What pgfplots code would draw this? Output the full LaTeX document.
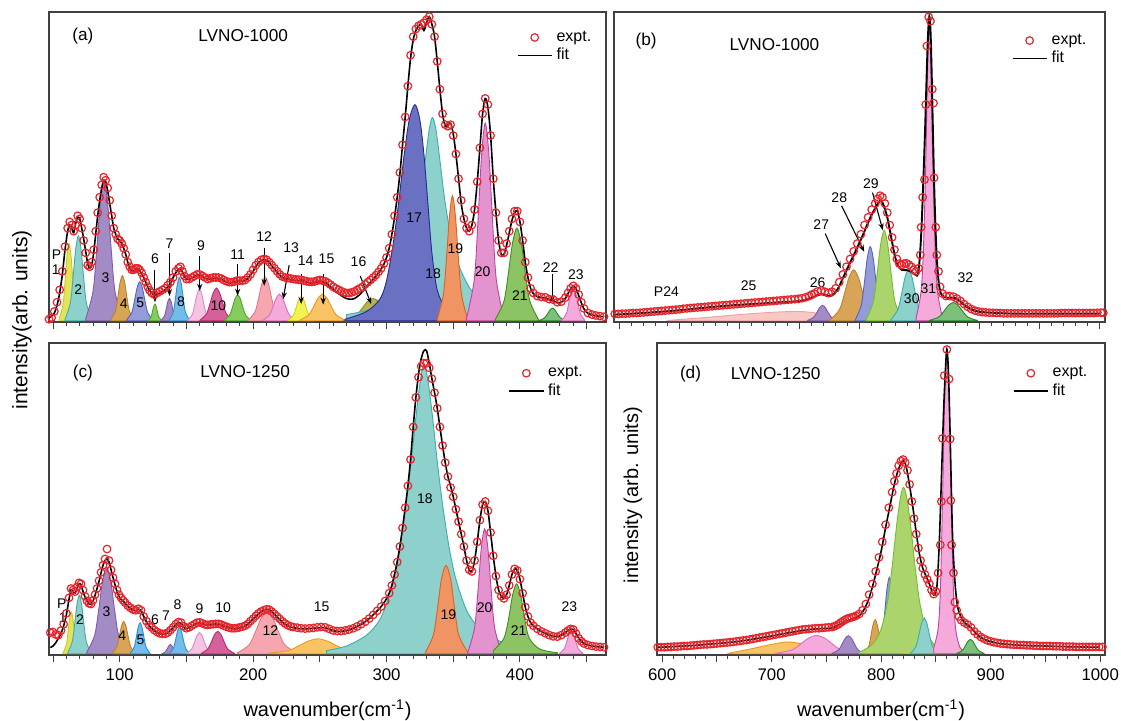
\documentclass[border=0pt]{standalone}
\usepackage{pgfplots}
\pgfplotsset{compat=1.18}
\usepackage{pgfplotstable}
\usepackage{fontspec}
\setmainfont{Liberation Sans}
\usetikzlibrary{arrows.meta}

\definecolor{expred}{HTML}{E8242B}
\definecolor{cYel}{HTML}{E4E45C}\definecolor{lYel}{HTML}{C8C81E}
\definecolor{cTeal}{HTML}{8ED0CB}\definecolor{lTeal}{HTML}{3AB0AA}
\definecolor{cPur}{HTML}{A38BC6}\definecolor{lPur}{HTML}{7E5AB0}
\definecolor{cTan}{HTML}{D8A458}\definecolor{lTan}{HTML}{BC8224}
\definecolor{cPeri}{HTML}{949CD8}\definecolor{lPeri}{HTML}{5662C0}
\definecolor{cGrn}{HTML}{86CC5C}\definecolor{lGrn}{HTML}{4AA82A}
\definecolor{cLBlu}{HTML}{72BCEA}\definecolor{lLBlu}{HTML}{2E8ED4}
\definecolor{cLPink}{HTML}{F6C4E2}\definecolor{lLPink}{HTML}{E088C4}
\definecolor{cMag}{HTML}{D4619A}\definecolor{lMag}{HTML}{C02474}
\definecolor{cSal}{HTML}{F5A6AE}\definecolor{lSal}{HTML}{E87888}
\definecolor{cSal2}{HTML}{F8C8C4}\definecolor{lSal2}{HTML}{F0A0A0}
\definecolor{cPink}{HTML}{F4AADA}\definecolor{lPink}{HTML}{DE6CC0}
\definecolor{cYel2}{HTML}{F2F252}\definecolor{lYel2}{HTML}{D8D400}
\definecolor{cOra}{HTML}{F8C466}\definecolor{lOra}{HTML}{F0961E}
\definecolor{cOli}{HTML}{B4B454}\definecolor{lOli}{HTML}{8E8E1E}
\definecolor{cNavy}{HTML}{6A70C2}\definecolor{lNavy}{HTML}{262A8C}
\definecolor{cOR}{HTML}{F09464}\definecolor{lOR}{HTML}{E0601E}
\definecolor{cPM}{HTML}{E394CE}\definecolor{lPM}{HTML}{C440A4}
\definecolor{cGrn2}{HTML}{8CC464}\definecolor{lGrn2}{HTML}{3E8E1E}
\definecolor{cLime}{HTML}{ABD46C}\definecolor{lLime}{HTML}{70C02A}
\definecolor{cDG}{HTML}{7CC07C}\definecolor{lDG}{HTML}{228A22}

\newcommand{\fs}[1]{\fontsize{#1}{#1}\selectfont}
\newcommand{\pk}[3]{\addplot[smooth, fill=#1, draw=#2, line width=0.45pt, forget plot] coordinates {#3} \closedcycle;}
\newcommand{\lb}[3][7]{\node[font=\fs{#1}, inner sep=0pt] at (axis cs:#2) {#3};}
\newcommand{\ar}[2]{\draw[-{Stealth[length=3.5pt,width=2.6pt]}, line width=0.55pt] (axis cs:#1) -- (axis cs:#2);}

\pgfplotsset{panel/.style={scale only axis, anchor=south west, ymin=-0.004, ymax=1, ytick=\empty,
  axis line style={line width=0.6pt, black!75}, tick align=outside, xtick pos=left,
  tick style={black!75, line width=0.5pt}, major tick length=3.5pt, minor tick length=2pt,
  minor x tick num=4, tick label style={font=\fs{8.4}}, /pgf/number format/assume math mode=true,
  legend style={draw=none, fill=none, font=\fs{8}, row sep=-2pt, inner sep=1pt, anchor=north east},
  legend cell align=left},
  expt/.style={only marks, mark=o, mark size=1.9pt, expred, mark options={line width=0.6pt}},
  fitl/.style={black, line width=0.8pt, smooth, no marks}}

\pgfplotstableread{
x e f
47 0.005 0.01
49 0.01 0.015
51 0.03 0.025
53 0.06 0.05
55 0.10 0.09
57 0.16 0.15
59 0.24 0.23
61 0.30 0.29
62.5 0.32 0.31
64 0.31 0.30
65.5 0.29 0.285
67 0.31 0.315
68.5 0.34 0.335
70 0.33 0.33
71.5 0.30 0.30
73 0.26 0.265
74.5 0.22 0.225
76 0.18 0.185
77.5 0.175 0.17
79 0.19 0.18
80.5 0.23 0.22
82 0.29 0.28
83.5 0.35 0.34
85 0.40 0.39
86.5 0.44 0.43
88 0.465 0.455
89.5 0.455 0.45
91 0.43 0.42
92.5 0.39 0.38
94 0.34 0.34
95.5 0.30 0.30
97 0.28 0.28
98.5 0.265 0.265
100 0.26 0.26
101.5 0.25 0.25
103 0.235 0.235
104.5 0.215 0.215
106 0.19 0.19
107.5 0.175 0.172
109 0.165 0.162
110.5 0.165 0.162
112 0.17 0.168
113.5 0.17 0.168
115 0.165 0.162
116.5 0.155 0.152
118 0.14 0.14
119.5 0.125 0.125
121 0.11 0.11
122.5 0.098 0.098
124 0.09 0.09
126 0.085 0.082
128 0.09 0.085
130 0.095 0.09
132 0.10 0.095
134 0.105 0.10
136 0.115 0.11
138 0.125 0.12
140 0.14 0.14
142 0.16 0.155
144 0.17 0.168
145.5 0.175 0.17
147 0.16 0.158
148.5 0.145 0.145
150 0.135 0.135
152 0.135 0.133
154 0.14 0.138
156 0.145 0.143
158 0.15 0.148
160 0.15 0.15
162 0.145 0.143
164 0.14 0.137
166 0.135 0.135
168 0.138 0.135
170 0.14 0.137
172 0.14 0.138
174 0.14 0.137
176 0.137 0.135
178 0.132 0.13
180 0.128 0.125
182 0.125 0.122
184 0.125 0.122
186 0.127 0.125
188 0.13 0.128
190 0.13 0.128
192 0.13 0.128
194 0.132 0.13
196 0.14 0.137
198 0.15 0.148
200 0.165 0.16
202 0.18 0.175
204 0.19 0.188
206 0.197 0.195
208 0.2 0.198
210 0.198 0.197
212 0.19 0.19
214 0.18 0.178
216 0.17 0.168
218 0.16 0.157
220 0.15 0.148
222 0.143 0.14
224 0.14 0.137
226 0.138 0.135
228 0.137 0.133
230 0.135 0.132
232 0.134 0.13
234 0.133 0.13
236 0.132 0.13
238 0.13 0.128
240 0.128 0.125
242 0.126 0.123
244 0.126 0.122
246 0.127 0.124
248 0.13 0.126
250 0.132 0.128
252 0.13 0.127
254 0.128 0.125
256 0.123 0.118
258 0.117 0.11
260 0.11 0.102
262 0.105 0.095
264 0.1 0.088
266 0.096 0.082
268 0.092 0.076
270 0.09 0.072
272 0.09 0.07
274 0.092 0.07
276 0.095 0.072
278 0.1 0.078
280 0.105 0.085
282 0.11 0.095
284 0.118 0.105
286 0.125 0.115
288 0.132 0.125
290 0.14 0.135
292 0.148 0.145
294 0.158 0.155
296 0.17 0.168
298 0.185 0.183
300 0.205 0.205
302 0.235 0.235
304 0.28 0.28
306 0.34 0.335
308 0.40 0.40
310 0.48 0.475
312 0.57 0.57
314 0.66 0.66
316 0.76 0.76
318 0.86 0.85
320 0.92 0.91
322 0.945 0.94
324 0.955 0.955
326 0.96 0.96
328 0.965 0.94
330 0.975 0.965
332 0.985 0.985
334 0.96 0.96
336 0.92 0.92
338 0.84 0.84
340 0.75 0.75
342 0.67 0.67
344 0.635 0.63
346 0.63 0.635
348 0.635 0.64
350 0.60 0.605
352 0.54 0.54
354 0.46 0.46
356 0.39 0.38
358 0.33 0.33
360 0.30 0.30
362 0.29 0.29
364 0.31 0.31
366 0.36 0.36
368 0.45 0.45
370 0.56 0.56
372 0.67 0.67
374 0.72 0.72
376 0.70 0.69
378 0.60 0.60
380 0.46 0.46
382 0.35 0.35
384 0.26 0.26
386 0.22 0.215
388 0.22 0.215
390 0.25 0.245
392 0.29 0.285
394 0.33 0.325
396 0.355 0.35
398 0.355 0.355
400 0.32 0.32
402 0.26 0.26
404 0.19 0.19
406 0.14 0.14
408 0.105 0.105
410 0.09 0.088
413 0.08 0.078
416 0.077 0.075
419 0.076 0.074
422 0.07 0.068
425 0.068 0.065
428 0.06 0.058
431 0.062 0.06
434 0.075 0.072
436 0.09 0.088
438 0.105 0.103
440 0.113 0.112
442 0.105 0.104
444 0.085 0.082
446 0.06 0.058
448 0.04 0.038
451 0.025 0.024
454 0.02 0.019
457 0.017 0.016
460 0.015 0.014
463 0.013 0.013
}\datA

\pgfplotstableread{
x e f
48 0.068 0.02
50 0.07 0.025
52 0.062 0.035
54 0.06 0.05
56 0.075 0.065
58 0.095 0.09
60 0.13 0.125
62 0.18 0.175
63.5 0.21 0.205
65 0.205 0.2
66.5 0.2 0.195
68 0.215 0.21
69.5 0.228 0.225
71 0.225 0.222
72.5 0.205 0.2
74 0.185 0.183
75.5 0.17 0.17
77 0.162 0.16
78.5 0.16 0.16
80 0.172 0.17
81.5 0.19 0.188
83 0.21 0.21
84.5 0.235 0.233
86 0.262 0.26
87.5 0.285 0.285
89 0.305 0.3
90.5 0.337 0.305
92 0.3 0.295
93.5 0.27 0.27
95 0.245 0.245
96.5 0.225 0.222
98 0.205 0.2
99.5 0.19 0.185
101 0.18 0.175
102.5 0.172 0.17
104 0.165 0.163
106 0.155 0.153
108 0.148 0.146
110 0.142 0.14
112 0.14 0.138
114 0.145 0.143
116 0.14 0.14
118 0.12 0.12
120 0.105 0.103
122 0.092 0.09
124 0.085 0.082
126 0.076 0.075
128 0.07 0.068
130 0.066 0.065
132 0.064 0.063
134 0.064 0.063
136 0.068 0.067
138 0.076 0.075
140 0.085 0.083
142 0.095 0.093
144 0.102 0.1
146 0.1 0.098
148 0.088 0.086
150 0.082 0.08
152 0.085 0.084
154 0.09 0.088
156 0.095 0.094
158 0.1 0.098
160 0.101 0.1
162 0.098 0.097
164 0.094 0.093
166 0.093 0.092
168 0.094 0.093
170 0.095 0.095
172 0.096 0.096
174 0.096 0.095
176 0.094 0.093
178 0.09 0.089
180 0.087 0.086
182 0.084 0.083
184 0.082 0.081
186 0.082 0.08
188 0.083 0.081
190 0.085 0.083
192 0.087 0.085
194 0.09 0.088
196 0.096 0.095
198 0.105 0.104
200 0.113 0.112
202 0.122 0.12
204 0.13 0.128
206 0.136 0.135
208 0.14 0.14
210 0.143 0.143
212 0.142 0.142
214 0.136 0.136
216 0.128 0.127
218 0.12 0.118
220 0.112 0.11
222 0.104 0.102
224 0.097 0.095
226 0.092 0.09
228 0.088 0.086
230 0.086 0.084
233 0.084 0.082
236 0.082 0.08
239 0.081 0.08
242 0.082 0.081
245 0.083 0.082
248 0.085 0.083
251 0.086 0.084
254 0.085 0.084
257 0.08 0.079
260 0.075 0.074
263 0.073 0.072
266 0.073 0.072
269 0.075 0.074
272 0.078 0.077
275 0.082 0.082
278 0.088 0.088
281 0.095 0.095
284 0.103 0.103
287 0.113 0.113
290 0.125 0.125
293 0.138 0.138
296 0.152 0.152
299 0.17 0.17
302 0.195 0.195
304 0.22 0.22
306 0.255 0.255
308 0.295 0.295
310 0.345 0.345
312 0.405 0.405
314 0.47 0.47
316 0.54 0.54
318 0.625 0.625
320 0.73 0.73
322 0.825 0.825
324 0.89 0.9
326 0.925 0.95
328 0.935 0.975
330 0.935 0.975
332 0.92 0.935
334 0.885 0.885
336 0.84 0.84
338 0.79 0.79
340 0.73 0.73
342 0.67 0.67
344 0.615 0.615
346 0.57 0.57
348 0.535 0.54
350 0.505 0.505
352 0.465 0.465
354 0.425 0.425
356 0.385 0.385
358 0.345 0.345
360 0.3 0.3
362 0.27 0.27
364 0.265 0.265
366 0.3 0.3
368 0.36 0.36
370 0.43 0.43
372 0.48 0.48
374 0.49 0.49
376 0.46 0.46
378 0.39 0.39
380 0.315 0.315
382 0.25 0.25
384 0.205 0.205
386 0.185 0.185
388 0.178 0.178
390 0.19 0.19
392 0.22 0.22
394 0.255 0.255
396 0.273 0.273
398 0.268 0.268
400 0.24 0.24
402 0.195 0.195
404 0.15 0.15
406 0.12 0.12
408 0.1 0.1
410 0.09 0.09
413 0.08 0.08
416 0.072 0.072
419 0.066 0.066
422 0.06 0.06
425 0.056 0.056
428 0.055 0.055
431 0.06 0.06
434 0.068 0.068
436 0.075 0.075
438 0.08 0.08
440 0.078 0.078
442 0.065 0.065
444 0.05 0.05
446 0.04 0.04
448 0.033 0.033
451 0.028 0.028
454 0.025 0.025
457 0.023 0.023
460 0.022 0.022
463 0.021 0.021
}\datC

\pgfplotstableread{
x e
596 0.022
599 0.022
602 0.023
605 0.023
608 0.024
611 0.025
614 0.025
617 0.026
620 0.027
623 0.028
626 0.029
629 0.030
632 0.031
635 0.032
638 0.033
641 0.034
644 0.035
647 0.036
650 0.037
653 0.039
656 0.040
659 0.041
662 0.042
665 0.043
668 0.044
671 0.045
674 0.046
677 0.047
680 0.048
683 0.049
686 0.050
689 0.051
692 0.052
695 0.053
698 0.054
701 0.055
704 0.056
707 0.057
710 0.058
713 0.059
716 0.060
719 0.061
722 0.062
725 0.063
728 0.064
731 0.065
734 0.066
737 0.067
740 0.068
743 0.069
746 0.070
749 0.071
752 0.073
755 0.076
758 0.08
760 0.084
762 0.088
765 0.095
768 0.098
771 0.094
774 0.09
777 0.094
780 0.105
783 0.125
786 0.15
789 0.175
792 0.2
795 0.225
798 0.25
801 0.28
804 0.31
807 0.335
810 0.36
813 0.38
815 0.395
817 0.405
819 0.4
821 0.38
823 0.35
825 0.31
827 0.27
829 0.23
831 0.2
833 0.185
835 0.18
837 0.185
839 0.186
841 0.182
843 0.175
845 0.165
847 0.16
849 0.17
850.5 0.213
851.2 0.303
852.5 0.4
854 0.457
855 0.7
856 0.89
857.5 0.984
859 0.97
860.5 0.75
861.5 0.705
862 0.463
863.4 0.303
864.3 0.213
865.7 0.16
867 0.11
869 0.088
872 0.08
875 0.08
878 0.078
881 0.072
884 0.064
887 0.054
890 0.045
893 0.038
896 0.033
899 0.030
902 0.028
905 0.027
908 0.026
911 0.026
914 0.025
917 0.025
920 0.024
923 0.024
926 0.024
929 0.024
932 0.024
935 0.024
938 0.024
941 0.024
944 0.024
947 0.024
950 0.024
953 0.024
956 0.024
959 0.024
962 0.024
965 0.024
968 0.025
971 0.025
974 0.025
977 0.025
980 0.025
983 0.025
986 0.025
989 0.025
992 0.025
995 0.025
998 0.026
1001 0.026
1003 0.026
}\datBe

\pgfplotstableread{
x f
596 0.02
610 0.023
630 0.028
650 0.034
670 0.042
690 0.049
710 0.054
730 0.059
745 0.062
755 0.067
760 0.074
765 0.083
768 0.086
771 0.083
774 0.079
777 0.082
780 0.093
783 0.112
786 0.138
789 0.163
792 0.188
795 0.212
798 0.237
801 0.263
804 0.29
807 0.318
810 0.343
813 0.365
815 0.378
817 0.388
819 0.382
821 0.362
823 0.335
825 0.296
827 0.255
829 0.215
831 0.188
833 0.172
835 0.165
837 0.164
839 0.164
841 0.162
843 0.158
845 0.152
847 0.148
848.5 0.15
850 0.2
851.5 0.3
853 0.45
854.5 0.62
856 0.82
857 0.93
858 0.985
859 0.94
860 0.8
861 0.62
862 0.45
863 0.32
864 0.22
865 0.16
866 0.12
867.5 0.09
870 0.078
873 0.074
876 0.075
879 0.074
882 0.068
886 0.055
890 0.043
895 0.034
900 0.029
910 0.026
930 0.023
960 0.023
1000 0.023
}\datBf

\pgfplotstableread{
x e
596 0.021
599 0.021
602 0.021
605 0.022
608 0.022
611 0.023
614 0.023
617 0.024
620 0.025
623 0.025
626 0.026
629 0.027
632 0.028
635 0.029
638 0.03
641 0.03
644 0.031
647 0.032
650 0.033
653 0.034
656 0.035
659 0.036
662 0.037
665 0.038
668 0.04
671 0.041
674 0.043
677 0.044
680 0.046
683 0.048
686 0.05
689 0.052
692 0.054
695 0.056
698 0.058
701 0.06
704 0.062
707 0.064
710 0.066
713 0.068
716 0.07
719 0.072
722 0.074
725 0.076
728 0.078
731 0.079
734 0.08
737 0.081
740 0.082
743 0.082
746 0.083
749 0.084
752 0.085
755 0.086
757 0.088
759 0.091
761 0.095
763 0.1
765 0.105
767 0.109
769 0.113
771 0.115
773 0.117
775 0.119
777 0.122
780 0.128
783 0.14
786 0.16
789 0.19
792 0.225
795 0.265
798 0.31
801 0.36
804 0.415
807 0.47
810 0.52
812 0.555
814 0.58
816 0.605
818 0.62
820 0.625
822 0.615
824 0.59
826 0.545
828 0.49
830 0.435
832 0.385
834 0.34
836 0.3
838 0.275
840 0.255
842 0.24
844 0.225
846 0.205
848 0.192
850 0.2
852 0.26
854 0.35
855 0.49
856 0.693
857.6 0.895
860 0.979
862 0.884
863 0.691
863.6 0.493
864.3 0.35
866 0.26
867.3 0.166
869 0.14
871 0.12
873 0.108
876 0.1
879 0.094
882 0.085
885 0.072
888 0.062
891 0.054
894 0.048
897 0.043
900 0.04
903 0.037
906 0.035
909 0.033
912 0.032
915 0.031
918 0.03
921 0.029
924 0.029
927 0.028
930 0.028
933 0.027
936 0.027
939 0.026
942 0.026
945 0.025
948 0.025
951 0.025
954 0.025
957 0.024
960 0.024
963 0.024
966 0.023
969 0.023
972 0.023
975 0.023
978 0.022
981 0.022
984 0.022
987 0.022
990 0.022
993 0.022
996 0.022
999 0.022
1002 0.022
}\datDe

\pgfplotstableread{
x f
596 0.021
600 0.021
610 0.023
620 0.025
630 0.027
640 0.03
650 0.033
660 0.036
670 0.04
680 0.045
690 0.051
700 0.057
710 0.064
720 0.07
730 0.076
740 0.08
748 0.081
755 0.083
760 0.09
765 0.1
770 0.108
775 0.113
780 0.122
784 0.14
788 0.17
792 0.215
796 0.27
800 0.33
804 0.405
808 0.475
812 0.545
815 0.585
818 0.612
820.4 0.622
823 0.6
826 0.54
829 0.47
832 0.39
835 0.32
838 0.275
841 0.25
844 0.225
847 0.195
849 0.19
851 0.22
853 0.35
855 0.56
857 0.78
858.5 0.9
860 0.98
861.5 0.9
863 0.7
865 0.4
867 0.25
869 0.17
871 0.135
874 0.11
877 0.097
880 0.09
883 0.08
886 0.068
890 0.055
895 0.045
900 0.039
910 0.032
920 0.029
935 0.026
950 0.025
965 0.023
980 0.022
1000 0.021
}\datDf

\begin{document}
\begin{tikzpicture}
\useasboundingbox (0,0) rectangle (560.5pt,360.5pt);

% ---------------- (a)
\begin{axis}[panel, at={(24.5pt,199.5pt)}, width=278.5pt, height=155pt, xmin=47, xmax=464.5,
  xtick={50,100,...,450}, xticklabels={}, legend style={at={(0.985,0.96)}}]
\pk{cYel}{lYel}{(54.5,0.004)(57.5,0.053)(59,0.125)(60.5,0.21)(62,0.25)(63.5,0.21)(65,0.125)(66.5,0.053)(69.5,0.004)}
\pk{cTeal}{lTeal}{(59,0.004)(63,0.058)(65,0.138)(67,0.231)(69,0.275)(71,0.231)(73,0.138)(75,0.058)(79,0.004)}
\pk{cPur}{lPur}{(74.5,0.006)(80,0.095)(82.7,0.227)(85.45,0.381)(88.2,0.453)(90.95,0.381)(93.7,0.227)(96.45,0.095)(101.95,0.006)}
\pk{cTan}{lTan}{(93.25,0.002)(96.75,0.031)(98.5,0.073)(100.25,0.123)(102,0.146)(103.75,0.123)(105.5,0.073)(107.25,0.031)(110.75,0.002)}
\pk{cPeri}{lPeri}{(105,0.002)(109,0.026)(111,0.063)(113,0.106)(115,0.126)(117,0.106)(119,0.063)(121,0.026)(125,0.002)}
\pk{cGrn}{lGrn}{(121.4,0.001)(123.4,0.011)(124.4,0.027)(125.4,0.045)(126.4,0.054)(127.4,0.045)(128.4,0.027)(129.4,0.011)(131.4,0.001)}
\pk{cPur}{lPur}{(131,0.001)(133.5,0.015)(134.8,0.036)(136,0.061)(137.3,0.072)(138.6,0.061)(139.8,0.036)(141,0.015)(143.5,0.001)}
\pk{cLBlu}{lLBlu}{(137.2,0.002)(140.2,0.029)(141.7,0.07)(143.2,0.118)(144.7,0.14)(146.2,0.118)(147.7,0.07)(149.2,0.029)(152.2,0.002)}
\pk{cLPink}{lLPink}{(151,0.001)(154.5,0.021)(156.2,0.051)(158,0.086)(159.7,0.102)(161.5,0.086)(163.2,0.051)(165,0.021)(168.5,0.001)}
\pk{cMag}{lMag}{(160,0.001)(165,0.022)(167.5,0.053)(170,0.089)(172.5,0.106)(175,0.089)(177.5,0.053)(180,0.022)(185,0.001)}
\pk{cGrn}{lGrn}{(178.4,0.001)(182.4,0.018)(184.4,0.042)(186.4,0.071)(188.4,0.084)(190.4,0.071)(192.4,0.042)(194.4,0.018)(198.4,0.001)}
\pk{cSal}{lSal}{(196.5,0.002)(201.5,0.03)(204,0.071)(206.5,0.119)(209,0.142)(211.5,0.119)(214,0.071)(216.5,0.03)(221.5,0.002)}
\pk{cPink}{lPink}{(207.2,0.001)(212.2,0.018)(214.7,0.043)(217.2,0.072)(219.7,0.086)(222.2,0.072)(224.7,0.043)(227.2,0.018)(232.2,0.001)}
\pk{cYel2}{lYel2}{(226,0.001)(230,0.016)(232,0.039)(234,0.066)(236,0.078)(238,0.066)(240,0.039)(242,0.016)(246,0.001)}
\pk{cOra}{lOra}{(234.5,0.001)(241.5,0.018)(245,0.043)(248.5,0.072)(252,0.086)(255.5,0.072)(259,0.043)(262.5,0.018)(269.5,0.001)}
\pk{cOli}{lOli}{(267.5,0.001)(276.5,0.015)(281,0.036)(285.5,0.061)(290,0.072)(294.5,0.061)(299,0.036)(303.5,0.015)(312.5,0.001)}
\pk{cTeal}{lTeal}{(270,0.02)(290,0.04)(305,0.09)(315,0.17)(320,0.26)(325,0.4)(329,0.52)(332,0.62)(334.4,0.658)(337,0.62)(340,0.52)(344,0.38)(349,0.26)(355,0.17)(365,0.09)(380,0.045)(395,0.02)(410,0.005)}
\pk{cNavy}{lNavy}{(269,0.005)(285,0.03)(295,0.07)(300,0.13)(305,0.25)(309,0.38)(313,0.53)(317,0.65)(321.3,0.70)(325,0.65)(328,0.54)(331,0.38)(334,0.22)(338,0.1)(345,0.04)(360,0.01)}
\pk{cOR}{lOR}{(338,0.005)(342.6,0.085)(344.9,0.2)(347.2,0.34)(349.4,0.405)(351.6,0.34)(353.9,0.2)(356.2,0.085)(360.7,0.005)}
\pk{cPM}{lPM}{(360,0.008)(365.8,0.134)(368.5,0.32)(371.25,0.538)(374,0.64)(376.75,0.538)(379.5,0.32)(382.25,0.134)(388,0.008)}
\pk{cGrn2}{lGrn2}{(381.5,0.004)(388,0.063)(391.2,0.15)(394.45,0.252)(397.7,0.3)(400.95,0.252)(404.2,0.15)(407.45,0.063)(413.9,0.004)}
\pk{cDG}{lDG}{(414.4,0.001)(418.4,0.009)(420.4,0.02)(422.4,0.034)(424.4,0.041)(426.4,0.034)(428.4,0.02)(430.4,0.009)(434.4,0.001)}
\pk{cPink}{lPink}{(431.25,0.001)(434.75,0.023)(436.5,0.055)(438.25,0.092)(440,0.11)(441.75,0.092)(443.5,0.055)(445.25,0.023)(448.75,0.001)}
\addplot[expt] table[x=x,y=e]{\datA}; \addlegendentry{expt.}
\addplot[fitl] table[x=x,y=f]{\datA}; \addlegendentry{fit}
\lb[8.6]{72.4,0.922}{(a)} \lb[8.6]{192.5,0.922}{LVNO-1000}
\lb{52.7,0.214}{P} \lb{52,0.164}{1}
\lb{69,0.1}{2} \lb{89.3,0.14}{3} \lb{103,0.056}{4} \lb{115.5,0.059}{5}
\lb{126.4,0.2}{6} \ar{126.4,0.164}{126.4,0.06}
\lb{137.3,0.248}{7} \ar{137.3,0.22}{137.3,0.08}
\lb{146,0.061}{8}
\lb{161,0.243}{9} \ar{160,0.21}{160,0.097}
\lb{174,0.05}{10}
\lb{188.4,0.214}{11} \ar{188.4,0.183}{188.4,0.081}
\lb{208.3,0.272}{12} \ar{208.3,0.237}{208.3,0.113}
\lb{228.5,0.237}{13} \ar{227,0.18}{222.5,0.07}
\lb{239.4,0.196}{14} \ar{236,0.153}{236,0.054}
\lb{255,0.2}{15} \ar{252.5,0.151}{252.5,0.052}
\lb{279,0.19}{16} \ar{280.3,0.145}{288.5,0.054}
\lb{320.7,0.334}{17} \lb{335,0.151}{18} \lb{351.6,0.232}{19} \lb{372,0.16}{20} \lb{400,0.081}{21}
\lb{423,0.173}{22} \ar{424.4,0.151}{424.4,0.06}
\lb{442,0.149}{23}
\end{axis}

% ---------------- (b)
\begin{axis}[panel, at={(307pt,199.5pt)}, width=245.5pt, height=155pt, xmin=595.3, xmax=1004.4,
  xtick={600,650,...,1000}, xticklabels={}, legend style={at={(0.975,0.95)}}]
\pk{cSal2}{lSal2}{(640,0.001)(670,0.01)(700,0.02)(730,0.028)(750,0.03)(765,0.024)(780,0.008)(792,0.001)}
\pk{cPur}{lPur}{(756.5,0.001)(761.5,0.011)(764,0.025)(766.5,0.042)(769,0.05)(771.5,0.042)(774,0.025)(776.5,0.011)(781.5,0.001)}
\pk{cTan}{lTan}{(775,0.002)(783,0.035)(787,0.083)(791,0.139)(795,0.165)(799,0.139)(803,0.083)(807,0.035)(815,0.002)}
\pk{cPeri}{lPeri}{(796.3,0.003)(801.3,0.05)(803.8,0.12)(806.3,0.202)(808.8,0.24)(811.3,0.202)(813.8,0.12)(816.3,0.05)(821.3,0.003)}
\pk{cLime}{lLime}{(805.4,0.004)(811.4,0.062)(814.4,0.147)(817.4,0.246)(820.4,0.293)(823.4,0.246)(826.4,0.147)(829.4,0.062)(835.4,0.004)}
\pk{cTeal}{lTeal}{(825.7,0.002)(831.7,0.035)(834.7,0.083)(837.7,0.139)(840.7,0.165)(843.7,0.139)(846.7,0.083)(849.7,0.035)(855.7,0.002)}
\pk{cPink}{lPM}{(847,0.01)(851,0.09)(853,0.22)(855,0.5)(856.5,0.8)(858,0.973)(859.5,0.8)(861,0.5)(863,0.22)(865,0.09)(869,0.01)}
\pk{cDG}{lDG}{(858,0.001)(866,0.012)(870,0.03)(874,0.05)(878,0.059)(882,0.05)(886,0.03)(890,0.012)(898,0.001)}
\addplot[expt] table[x=x,y=e]{\datBe}; \addlegendentry{expt.}
\addplot[fitl, line width=0.95pt] table[x=x,y=f]{\datBf}; \addlegendentry{fit}
\lb[8.6]{622,0.906}{(b)} \lb[8.6]{729,0.894}{LVNO-1000}
\lb{639,0.093}{P24} \lb{707.4,0.112}{25} \lb{765,0.122}{26}
\lb{768,0.31}{27} \ar{771.3,0.282}{784.3,0.17}
\lb{783,0.4}{28} \ar{785,0.372}{803.8,0.223}
\lb{809.3,0.444}{29} \ar{810.7,0.415}{819.3,0.293}
\lb{843.4,0.072}{30} \lb{857.3,0.104}{31} \lb{888,0.138}{32}
\end{axis}

% ---------------- (c)
\begin{axis}[panel, at={(24.5pt,33pt)}, width=278.5pt, height=156pt, xmin=47, xmax=464.5,
  xtick={50,100,...,450}, xticklabels={,100,,200,,300,,400,}, legend style={at={(0.97,0.945)}}]
\pk{cYel}{lYel}{(57.45,0.002)(59.95,0.028)(61.2,0.067)(62.45,0.113)(63.7,0.134)(64.95,0.113)(66.2,0.067)(67.45,0.028)(69.95,0.002)}
\pk{cTeal}{lTeal}{(60.95,0.002)(64.45,0.039)(66.2,0.094)(67.95,0.158)(69.7,0.188)(71.45,0.158)(73.2,0.094)(74.95,0.039)(78.45,0.002)}
\pk{cPur}{lPur}{(75.2,0.004)(81.2,0.059)(84.2,0.14)(87.2,0.235)(90.2,0.279)(93.2,0.235)(96.2,0.14)(99.2,0.059)(105.2,0.004)}
\pk{cTan}{lTan}{(94.25,0.001)(97.75,0.022)(99.5,0.052)(101.25,0.087)(103,0.104)(104.75,0.087)(106.5,0.052)(108.25,0.022)(111.75,0.001)}
\pk{cLBlu}{lLBlu}{(107.8,0.001)(110.8,0.021)(112.3,0.05)(113.8,0.084)(115.3,0.1)(116.8,0.084)(118.3,0.05)(119.8,0.021)(122.8,0.001)}
\pk{cPur}{lPur}{(131.75,0.0)(134.25,0.006)(135.5,0.015)(136.75,0.025)(138,0.03)(139.25,0.025)(140.5,0.015)(141.75,0.006)(144.25,0.0)}
\pk{cLBlu}{lLBlu}{(137.3,0.001)(140.3,0.018)(141.8,0.043)(143.3,0.072)(144.8,0.086)(146.3,0.072)(147.8,0.043)(149.3,0.018)(152.3,0.001)}
\pk{cLPink}{lLPink}{(149.8,0.001)(153.8,0.014)(155.8,0.034)(157.8,0.057)(159.8,0.068)(161.8,0.057)(163.8,0.034)(165.8,0.014)(169.8,0.001)}
\pk{cMag}{lMag}{(161,0.001)(166,0.015)(168.5,0.036)(171,0.061)(173.5,0.072)(176,0.061)(178.5,0.036)(181,0.015)(186,0.001)}
\pk{cSal}{lSal}{(187.9,0.002)(196.9,0.028)(201.4,0.067)(205.9,0.113)(210.4,0.134)(214.9,0.113)(219.4,0.067)(223.9,0.028)(232.9,0.002)}
\pk{cOra}{lOra}{(211,0.001)(226,0.01)(233.6,0.024)(241,0.04)(248.6,0.048)(256,0.04)(263.6,0.024)(271,0.01)(286,0.001)}
\pk{cTeal}{lTeal}{(255,0.01)(270,0.025)(285,0.06)(295,0.11)(302,0.19)(308,0.3)(313,0.43)(318,0.6)(322,0.76)(325,0.87)(327.9,0.932)(331,0.88)(334,0.78)(338,0.62)(342,0.48)(347,0.34)(352,0.24)(360,0.14)(370,0.08)(385,0.04)(400,0.02)(420,0.005)}
\pk{cOR}{lOR}{(329,0.004)(335.1,0.06)(338.1,0.142)(341.1,0.239)(344.6,0.284)(348.1,0.239)(351.1,0.142)(354.1,0.06)(361,0.004)}
\pk{cPM}{lPM}{(361,0.005)(366,0.084)(368.5,0.201)(371,0.338)(373.5,0.402)(376,0.338)(378.5,0.201)(381,0.084)(386,0.005)}
\pk{cGrn2}{lGrn2}{(380,0.01)(388,0.05)(391.5,0.113)(394.5,0.189)(397.5,0.225)(400.5,0.189)(403.5,0.113)(407,0.05)(415,0.015)(428,0.003)}
\pk{cPink}{lPink}{(429.75,0.001)(433.25,0.016)(435,0.038)(436.75,0.063)(438.5,0.075)(440.25,0.063)(442,0.038)(443.75,0.016)(447.25,0.001)}
\addplot[expt] table[x=x,y=e]{\datC}; \addlegendentry{expt.}
\addplot[fitl] table[x=x,y=f]{\datC}; \addlegendentry{fit}
\lb[8.6]{72.4,0.904}{(c)} \lb[8.6]{194,0.908}{LVNO-1250}
\lb{56.6,0.161}{P} \lb{57.4,0.115}{1} \lb{70.2,0.11}{2} \lb{90.2,0.134}{3} \lb{102,0.057}{4}
\lb{115.6,0.046}{5} \lb{126.5,0.11}{6} \lb{134.7,0.121}{7} \lb{143.4,0.158}{8} \lb{159.8,0.145}{9}
\lb{177.6,0.147}{10} \lb{213,0.075}{12} \lb{251.4,0.152}{15} \lb{328.7,0.5}{18} \lb{346.4,0.126}{19}
\lb{373.5,0.147}{20} \lb{399,0.075}{21} \lb{437,0.153}{23}
\end{axis}

% ---------------- (d)
\begin{axis}[panel, at={(328.5pt,33pt)}, width=224pt, height=156pt, xmin=595.3, xmax=1004.4,
  xtick={600,650,...,1000}, xticklabels={600,,700,,800,,900,,1000}, legend style={at={(0.975,0.945)}}]
\pk{cOra}{lOra}{(660,0.001)(680,0.015)(700,0.03)(715,0.038)(730,0.03)(745,0.012)(760,0.001)}
\pk{cPink}{lPink}{(703.5,0.001)(718.5,0.012)(726,0.03)(733.5,0.05)(741,0.059)(748.5,0.05)(756,0.03)(763.5,0.012)(778.5,0.001)}
\pk{cPur}{lPur}{(755,0.001)(761,0.012)(764,0.029)(767,0.049)(770,0.058)(773,0.049)(776,0.029)(779,0.012)(785,0.001)}
\pk{cTan}{lTan}{(784.5,0.001)(788.5,0.023)(790.5,0.055)(792.5,0.092)(794.5,0.11)(796.5,0.092)(798.5,0.055)(800.5,0.023)(804.5,0.001)}
\pk{cPeri}{lPeri}{(796.25,0.003)(800.75,0.052)(803,0.123)(805.25,0.207)(807.5,0.246)(809.75,0.207)(812,0.123)(814.25,0.052)(818.75,0.003)}
\pk{cLime}{lLime}{(780,0.005)(792,0.03)(800,0.08)(806,0.17)(810,0.28)(814,0.41)(817.5,0.5)(820.4,0.536)(823.5,0.5)(827,0.41)(831,0.28)(835,0.17)(840,0.09)(846,0.04)(855,0.012)(865,0.003)}
\pk{cTeal}{lTeal}{(826.8,0.001)(831.8,0.024)(834.3,0.058)(836.8,0.097)(839.3,0.115)(841.8,0.097)(844.3,0.058)(846.8,0.024)(851.8,0.001)}
\pk{cPink}{lPM}{(848,0.02)(852,0.08)(854,0.2)(856,0.49)(858,0.82)(860,0.975)(862,0.82)(864,0.49)(866,0.2)(868,0.08)(872,0.02)(878,0.005)}
\pk{cDG}{lDG}{(869,0.001)(874,0.01)(876.4,0.023)(879,0.039)(881.4,0.046)(884,0.039)(886.4,0.023)(889,0.01)(894,0.001)}
\addplot[expt] table[x=x,y=e]{\datDe}; \addlegendentry{expt.}
\addplot[fitl] table[x=x,y=f]{\datDf}; \addlegendentry{fit}
\lb[8.6]{625.9,0.9}{(d)} \lb[8.6]{703.7,0.9}{LVNO-1250}
\end{axis}

\node[rotate=90, font=\fs{10.5}] at (11pt,200.5pt) {intensity(arb. units)};
\node[rotate=90, font=\fs{10}] at (316.5pt,113pt) {intensity (arb. units)};
\node[font=\fs{10}] at (163.75pt,5.5pt) {wavenumber(cm\textsuperscript{-1})};
\node[font=\fs{10}] at (440.5pt,5.5pt) {wavenumber(cm\textsuperscript{-1})};
\end{tikzpicture}
\end{document}
